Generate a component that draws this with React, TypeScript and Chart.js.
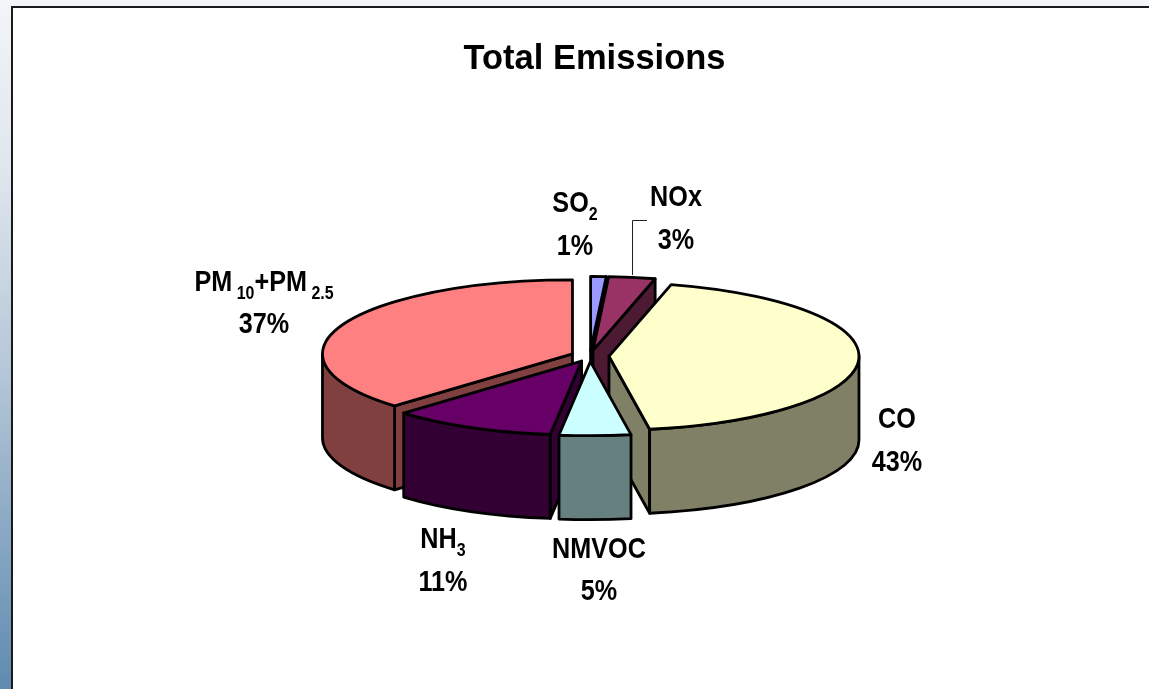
import React, { useEffect, useRef } from "react";
import { Chart, registerables } from "chart.js";

Chart.register(...registerables);

const categories = ["SO2", "NOx", "CO", "NMVOC", "NH3", "PM10+PM2.5"];
const shares = [1, 3, 43.4, 4.6, 10.6, 37.4];
const topColors = ["#9999FF", "#993366", "#FFFFCC", "#CCFFFF", "#660066", "#FF8080"];
const sideColors = ["#4D4D80", "#4D1A33", "#808066", "#668080", "#330033", "#804040"];
// each label is split into runs of [text, isSubscript]
const labelRuns: [string, boolean][][] = [
  [["SO", false], ["2", true]],
  [["NOx", false]],
  [["CO", false]],
  [["NMVOC", false]],
  [["NH", false], ["3", true]],
  [["PM", false], [" 10", true], ["+PM", false], [" 2.5", true]],
];
const labelCentreX = [575, 676, 897, 599, 443, 264];
const labelLine1Y = [201, 195, 417, 547, 537, 280];
const labelLine2Y = [244, 238, 460, 589, 580, 322];

const drawOrder = [0, 1, 5, 2, 4, 3];
const CX = 590;
const CY = 356;
const SQUASH = 0.296;
const DEPTH = 84;
const EXPLODE = 19;
const TEXT_X = 0.84;
const FONT_MAIN = 'bold 30px "Liberation Sans", Arial, sans-serif';
const FONT_SUB = 'bold 19px "Liberation Sans", Arial, sans-serif';

const tilted3d = {
  id: "tilted3d",
  beforeDatasetDraw(chart: any) {
    const ctx = chart.ctx as CanvasRenderingContext2D;
    const arcs = chart.getDatasetMeta(0).data;
    ctx.save();
    ctx.lineWidth = 2.8;
    ctx.strokeStyle = "#000";
    ctx.lineJoin = "round";
    for (const i of drawOrder) {
      const arc = arcs[i];
      const a0: number = arc.startAngle;
      const a1: number = arc.endAngle;
      const R: number = arc.outerRadius;
      const Ry = R * SQUASH;
      const mid = (a0 + a1) / 2;
      const ax = CX + Math.cos(mid) * EXPLODE;
      const ay = CY + Math.sin(mid) * EXPLODE * SQUASH;
      const edge = (a: number) => [ax + Math.cos(a) * R, ay + Math.sin(a) * Ry];
      const face = (a: number) => {
        const [ex, ey] = edge(a);
        ctx.beginPath();
        ctx.moveTo(ax, ay);
        ctx.lineTo(ex, ey);
        ctx.lineTo(ex, ey + DEPTH);
        ctx.lineTo(ax, ay + DEPTH);
        ctx.closePath();
        ctx.fillStyle = sideColors[i];
        ctx.fill();
        ctx.stroke();
      };
      if (Math.cos(a0) < 0) face(a0);
      if (Math.cos(a1) > 0) face(a1);
      const lo = Math.max(a0, 0);
      const hi = Math.min(a1, Math.PI);
      if (hi > lo) {
        ctx.beginPath();
        ctx.ellipse(ax, ay, R, Ry, 0, lo, hi);
        ctx.ellipse(ax, ay + DEPTH, R, Ry, 0, hi, lo, true);
        ctx.closePath();
        ctx.fillStyle = sideColors[i];
        ctx.fill();
        ctx.stroke();
      }
      // the top face is the library's own arc element, tilted
      ctx.save();
      ctx.translate(ax, ay);
      ctx.scale(1, SQUASH);
      ctx.translate(-arc.x, -arc.y);
      arc.draw(ctx);
      ctx.restore();
      ctx.beginPath();
      ctx.moveTo(ax, ay);
      ctx.ellipse(ax, ay, R, Ry, 0, a0, a1);
      ctx.closePath();
      ctx.stroke();
    }
    // leader line of NOx
    ctx.lineWidth = 1;
    ctx.strokeStyle = "#222";
    ctx.beginPath();
    ctx.moveTo(632.5, 275);
    ctx.lineTo(632.5, 220.5);
    ctx.lineTo(647, 220.5);
    ctx.stroke();
    ctx.restore();
    return false;
  },
  afterDraw(chart: any) {
    const ctx = chart.ctx as CanvasRenderingContext2D;
    ctx.save();
    ctx.fillStyle = "#000";
    ctx.textBaseline = "alphabetic";
    const put = (t: string, x: number, y: number) => {
      ctx.save();
      ctx.translate(x, y);
      ctx.scale(TEXT_X, 1);
      ctx.fillText(t, 0, 0);
      ctx.restore();
    };
    labelRuns.forEach((runs, i) => {
      ctx.textAlign = "left";
      const total = runs.reduce((s, [t, sub]) => {
        ctx.font = sub ? FONT_SUB : FONT_MAIN;
        return s + ctx.measureText(t).width * TEXT_X;
      }, 0);
      let x = labelCentreX[i] - total / 2;
      const base = labelLine1Y[i] + 11;
      for (const [t, sub] of runs) {
        ctx.font = sub ? FONT_SUB : FONT_MAIN;
        put(t, x, sub ? base + 8 : base);
        x += ctx.measureText(t).width * TEXT_X;
      }
      ctx.font = FONT_MAIN;
      ctx.textAlign = "center";
      put(`${Math.round(shares[i])}%`, labelCentreX[i], labelLine2Y[i] + 11);
    });
    ctx.restore();
  },
};

export default function App() {
  const ref = useRef<HTMLCanvasElement>(null);
  useEffect(() => {
    const chart = new Chart(ref.current!, {
      type: "pie",
      data: {
        labels: categories,
        datasets: [{ data: shares, backgroundColor: topColors, borderWidth: 0 }],
      },
      options: {
        animation: false,
        responsive: false,
        radius: 250,
        layout: { padding: { left: 40 } },
        plugins: {
          legend: { display: false },
          tooltip: { enabled: false },
          title: {
            display: true,
            text: "Total Emissions",
            color: "#000",
            font: { family: '"Liberation Sans", Arial, sans-serif', size: 34.5, weight: "bold" },
            padding: { top: 39, bottom: 10 },
          },
        },
      },
      plugins: [tilted3d],
    } as any);
    return () => chart.destroy();
  }, []);
  return (
    <div
      style={{
        position: "fixed",
        left: 0,
        top: 0,
        width: 1149,
        height: 689,
        overflow: "hidden",
        background: "linear-gradient(to bottom, #f3f5f8 0%, #dfe6ee 25%, #b3c5d7 55%, #5f8bb0 100%)",
      }}
    >
      <div
        style={{
          position: "absolute",
          left: 11,
          top: 6,
          width: 1200,
          height: 800,
          background: "#fff",
          borderLeft: "2px solid #1a1a1a",
          borderTop: "2px solid #1a1a1a",
        }}
      />
      <canvas ref={ref} width={1149} height={689} style={{ position: "absolute", left: 0, top: 0 }} />
    </div>
  );
}
